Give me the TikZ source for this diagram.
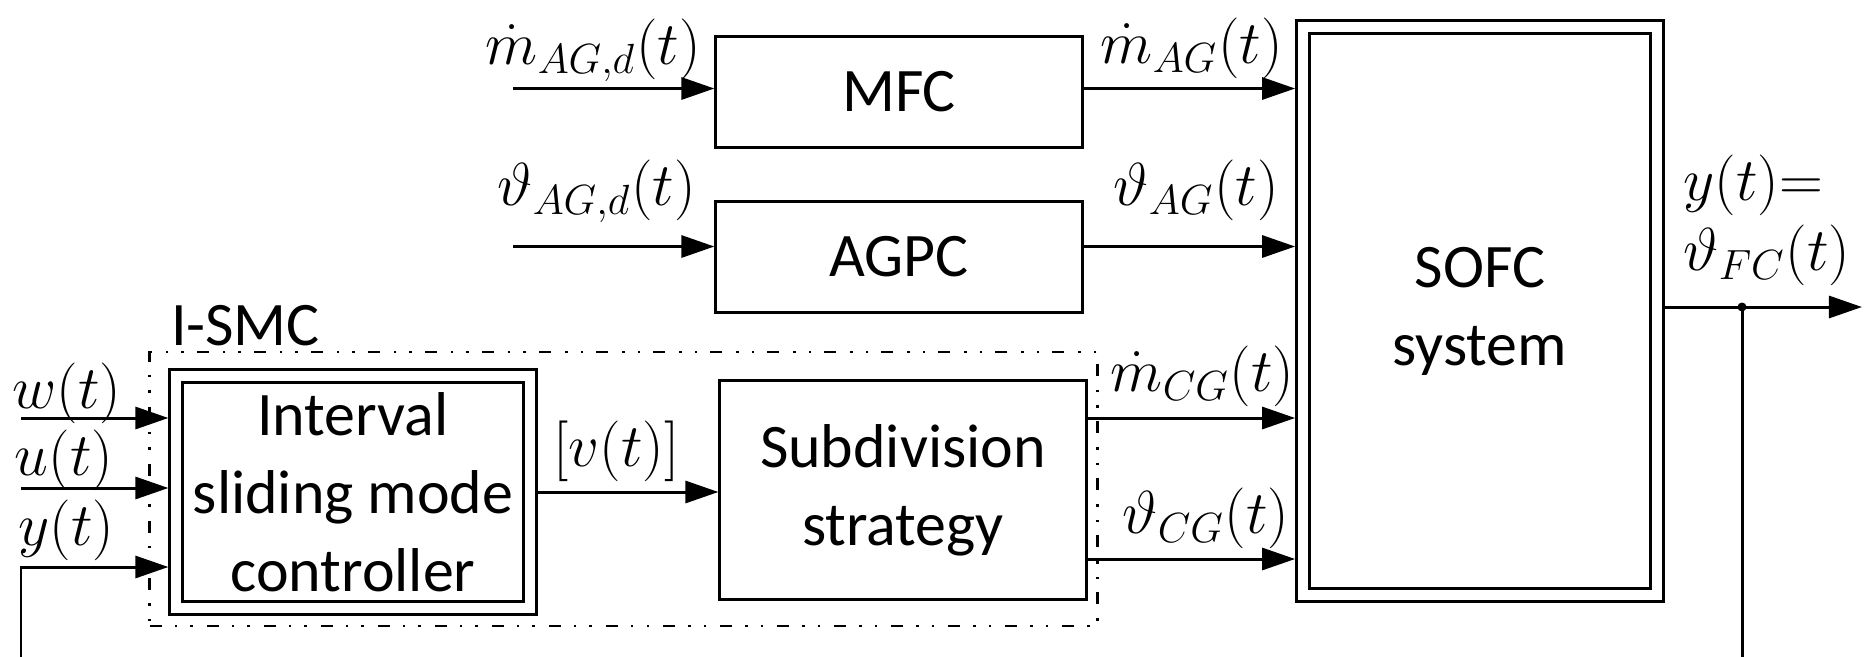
\documentclass[tikz,border=0pt]{standalone}
\usepackage{fontspec}
\newfontfamily\blockfont{Carlito}
\usetikzlibrary{arrows.meta}

\begin{document}
\begin{tikzpicture}[x=0.01cm,y=-0.01cm,
    link/.style={line width=0.85pt,-{Triangle[length=0.33cm,width=0.22cm]}},
    wire/.style={line width=0.85pt},
    block/.style={draw,line width=0.85pt,inner sep=0pt,align=center,
      font=\blockfont\fontsize{17.6pt}{22.2pt}\selectfont},
    dblock/.style={block,double,double distance=0.1cm,outer sep=0.08cm},
    sig/.style={anchor=base west,inner sep=0pt,font=\fontsize{18pt}{20pt}\selectfont},
    group/.style={draw,line width=0.8pt,inner sep=0pt,
      dash pattern=on 0.12cm off 0.13cm on 0.025cm off 0.13cm on 0.025cm off 0.14cm}]
  \useasboundingbox (0,0) rectangle (1868,657);

  \node[block,minimum width=3.66cm,minimum height=1.10cm] (mfc) at (899,92) {MFC};
  \node[block,minimum width=3.66cm,minimum height=1.10cm] (agpc) at (899,257) {AGPC};
  \node[dblock,minimum width=3.535cm,minimum height=5.675cm] (sofc) at (1480,311) {SOFC\\system};
  \node[group,minimum width=9.47cm,minimum height=2.74cm] (ismc) at (623.5,489) {};
  \node[anchor=base west,inner sep=0pt,font=\blockfont\fontsize{17.6pt}{22.2pt}\selectfont]
    (ismclabel) at ([xshift=0.22cm,yshift=0.05cm]ismc.north west) {I-SMC};
  \node[dblock,minimum width=3.53cm,minimum height=2.325cm] (ctrl) at (353,492) {Interval\\sliding mode\\controller};
  \node[block,minimum width=3.66cm,minimum height=2.18cm] (sub) at (903,490) {Subdivision\\strategy};

  \coordinate (in1) at (513,88.5);
  \coordinate (in2) at (513,246.5);
  \coordinate (w) at (21,418);
  \coordinate (u) at (21,488);
  \coordinate (yin) at (21,567);
  \coordinate (fbl) at (21,657);
  \coordinate (r4) at (0,559);
  \coordinate (tap) at (1742,307);
  \coordinate (out) at (1862,307);
  \coordinate (fbr) at (1742,657);

  \draw[link] (in1) -- (in1 -| mfc.west);
  \draw[link] (mfc.east |- in1) -- (sofc.west |- in1);
  \draw[link] (in2) -- (in2 -| agpc.west);
  \draw[link] (agpc.east |- in2) -- (sofc.west |- in2);
  \draw[link] (w) -- (w -| ctrl.west);
  \draw[link] (u) -- (u -| ctrl.west);
  \draw[link] (fbl) -- (yin) -- (yin -| ctrl.west);
  \draw[link] (ctrl.east) -- (ctrl.east -| sub.west);
  \draw[link] (sub.east |- w) -- (sofc.west |- w);
  \draw[link] (sub.east |- r4) -- (sofc.west |- r4);
  \draw[link] (sofc.east |- out) -- (out);
  \fill (tap) circle[radius=0.045cm];
  \draw[wire] (tap) -- (fbr);

  \node[sig] (lw) at (12,408) {$w(t)$};
  \node[sig] (lu) at (14,475) {$u(t)$};
  \node[sig] (ly) at (18,545) {$y(t)$};
  \node[sig] (lmd) at (485,64) {$\dot m_{AG,d}(t)$};
  \node[sig] (ltd) at (497,205) {$\vartheta_{AG,d}(t)$};
  \node[sig] (lm) at (1100,63) {$\dot m_{AG}(t)$};
  \node[sig] (lt) at (1113,205) {$\vartheta_{AG}(t)$};
  \node[sig] (lv) at (553,466) {$[v(t)]$};
  \node[sig] (lmc) at (1110,391) {$\dot m_{CG}(t)$};
  \node[sig] (ltc) at (1122,533) {$\vartheta_{CG}(t)$};
  \node[sig] (ly1) at (1683,200) {$y(t){=}$};
  \node[sig] (ly2) at (1683,270) {$\vartheta_{FC}(t)$};
\end{tikzpicture}
\end{document}
